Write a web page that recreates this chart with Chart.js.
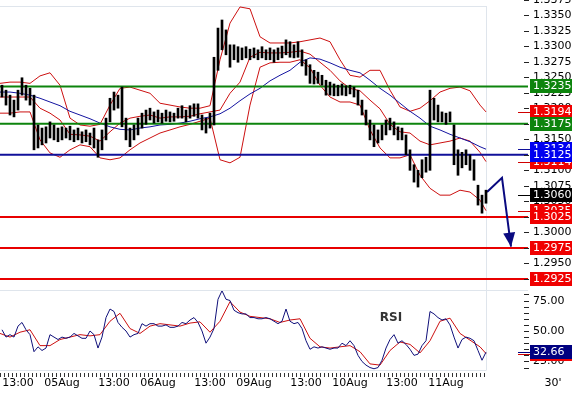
<!DOCTYPE html>
<html><head><meta charset="utf-8">
<script src="https://cdn.jsdelivr.net/npm/chart.js@4.4.1/dist/chart.umd.min.js"></script>
<style>
html,body{margin:0;padding:0;background:#fff;width:572px;height:396px;overflow:hidden}
canvas{position:absolute;left:0}
#main{top:0}
#rsi{top:290px}
</style></head><body>
<canvas id="main" width="572" height="290"></canvas>
<canvas id="rsi" width="572" height="106"></canvas>
<script>
// ---- time axis (30-minute bars) ----
const hourBars = Array.from({length:122},(_,i)=>1+2*i);
const bandBars = Array.from({length:49},(_,i)=>i*5).concat([243]);
const tickBars = [9,31,57,79,105,127,153,175,201,223];
const tickLabels = ['13:00','05Aug','13:00','06Aug','13:00','09Aug','13:00','10Aug','13:00','11Aug'];
const timeframe = "30'";

// ---- price bars (hourly high / low) ----
const highs = [1.3237,1.3229,1.3221,1.3213,1.3229,1.3249,1.3237,1.3232,1.3221,1.3173,
1.3168,1.3170,1.3178,1.3173,1.3168,1.3170,1.3168,1.3171,1.3165,1.3168,
1.3162,1.3165,1.3160,1.3168,1.3149,1.3165,1.3184,1.3216,1.3226,1.3221,
1.3234,1.3184,1.3168,1.3173,1.3184,1.3192,1.3197,1.3200,1.3194,1.3197,
1.3192,1.3197,1.3194,1.3192,1.3200,1.3204,1.3197,1.3204,1.3207,1.3207,
1.3189,1.3184,1.3192,1.3282,1.3329,1.3342,1.3326,1.3302,1.3302,1.3299,
1.3297,1.3299,1.3295,1.3297,1.3294,1.3299,1.3294,1.3297,1.3294,1.3297,
1.3300,1.3310,1.3307,1.3302,1.3307,1.3294,1.3278,1.3270,1.3261,1.3258,
1.3253,1.3245,1.3242,1.3239,1.3237,1.3239,1.3236,1.3237,1.3234,1.3229,
1.3213,1.3197,1.3181,1.3173,1.3165,1.3173,1.3181,1.3184,1.3178,1.3170,
1.3168,1.3157,1.3133,1.3109,1.3100,1.3117,1.3121,1.3229,1.3216,1.3205,
1.3194,1.3192,1.3194,1.3173,1.3133,1.3129,1.3133,1.3125,1.3117,1.3076,
1.3060,1.3068];
const lows = [1.3218,1.3205,1.3189,1.3186,1.3197,1.3221,1.3213,1.3205,1.3133,1.3136,
1.3141,1.3144,1.3152,1.3149,1.3146,1.3149,1.3152,1.3149,1.3146,1.3149,
1.3144,1.3146,1.3141,1.3136,1.3121,1.3133,1.3149,1.3178,1.3197,1.3200,
1.3170,1.3149,1.3138,1.3149,1.3157,1.3168,1.3174,1.3181,1.3176,1.3178,
1.3176,1.3179,1.3178,1.3179,1.3184,1.3184,1.3178,1.3184,1.3187,1.3184,
1.3165,1.3160,1.3168,1.3173,1.3261,1.3294,1.3286,1.3266,1.3278,1.3274,
1.3278,1.3281,1.3278,1.3281,1.3278,1.3281,1.3278,1.3278,1.3274,1.3278,
1.3281,1.3286,1.3282,1.3281,1.3282,1.3268,1.3253,1.3240,1.3239,1.3240,
1.3237,1.3221,1.3221,1.3220,1.3220,1.3221,1.3220,1.3223,1.3218,1.3205,
1.3189,1.3173,1.3149,1.3138,1.3144,1.3149,1.3157,1.3165,1.3157,1.3149,
1.3149,1.3125,1.3100,1.3081,1.3073,1.3088,1.3097,1.3100,1.3181,1.3178,
1.3178,1.3174,1.3178,1.3109,1.3092,1.3104,1.3109,1.3100,1.3084,1.3044,
1.3031,1.3047];
const lastClose = 1.3060;

// ---- Bollinger bands and moving average ----
const bbUpper = [1.3240,1.3242,1.3242,1.3240,1.3252,1.3257,1.3237,1.3184,1.3173,1.3171,
1.3174,1.3205,1.3232,1.3234,1.3229,1.3224,1.3208,1.3205,1.3202,1.3200,
1.3200,1.3204,1.3278,1.3337,1.3363,1.3360,1.3315,1.3305,1.3305,1.3305,
1.3307,1.3310,1.3313,1.3307,1.3278,1.3253,1.3250,1.3261,1.3261,1.3229,
1.3202,1.3195,1.3200,1.3212,1.3226,1.3232,1.3234,1.3228,1.3205,1.3194];
const bbMiddle = [1.3218,1.3218,1.3218,1.3218,1.3200,1.3192,1.3181,1.3158,1.3157,1.3155,
1.3147,1.3162,1.3176,1.3184,1.3187,1.3189,1.3184,1.3186,1.3186,1.3187,
1.3191,1.3194,1.3197,1.3224,1.3242,1.3282,1.3290,1.3289,1.3289,1.3290,
1.3292,1.3287,1.3274,1.3261,1.3244,1.3232,1.3228,1.3213,1.3199,1.3174,
1.3162,1.3160,1.3147,1.3141,1.3144,1.3147,1.3152,1.3147,1.3129,1.3114];
const bbLower = [1.3192,1.3192,1.3194,1.3194,1.3149,1.3128,1.3121,1.3133,1.3141,1.3138,
1.3120,1.3117,1.3120,1.3133,1.3144,1.3152,1.3160,1.3165,1.3170,1.3174,
1.3179,1.3184,1.3117,1.3112,1.3121,1.3205,1.3266,1.3273,1.3274,1.3274,
1.3278,1.3265,1.3237,1.3218,1.3210,1.3210,1.3205,1.3165,1.3136,1.3120,
1.3120,1.3125,1.3092,1.3071,1.3060,1.3060,1.3068,1.3065,1.3052,1.3035];
const maLine = [1.3226,1.3226,1.3224,1.3221,1.3216,1.3210,1.3204,1.3195,1.3189,1.3183,
1.3176,1.3170,1.3166,1.3165,1.3168,1.3170,1.3173,1.3174,1.3176,1.3179,
1.3183,1.3186,1.3191,1.3200,1.3212,1.3223,1.3232,1.3244,1.3253,1.3261,
1.3274,1.3281,1.3279,1.3273,1.3266,1.3261,1.3257,1.3245,1.3232,1.3221,
1.3208,1.3195,1.3184,1.3171,1.3165,1.3158,1.3152,1.3146,1.3138,1.3134];

// ---- horizontal levels ----
const levelValues = [1.3235,1.3175,1.3125,1.3025,1.2975,1.2925];
const levelColors = ['#0d840d','#0d840d','#10109a','#e80000','#e80000','#e80000'];
const levelBoxColors = ['#0d840d','#0d840d','#0000f0','#f00000','#f00000','#f00000'];

// ---- forecast arrow ----
const arrowBars = [243.5,251,255.5];
const arrowPrices = [1.3065,1.3088,1.2977];

// ---- price axis ticks ----
const priceTicks = [1.3375,1.3350,1.3325,1.3300,1.3275,1.3250,1.3225,1.3200,1.3175,1.3150,1.3125,1.3100,1.3075,1.3050,1.3025,1.3000,1.2975,1.2950,1.2925];

// ---- RSI ----
const rsiValues = [51,45,47,45,54,57,51,47,33,37,
34,36,47,45,43,45,44,45,48,46,
44,44,50,47,36,45,61,68,66,57,
53,50,45,47,48,56,54,56,56,54,
54,55,53,53,54,57,56,59,61,57,
50,40,45,52,76,83,76,75,67,65,
64,64,61,61,60,60,61,60,58,56,
58,68,58,56,57,52,42,35,37,36,
37,36,35,36,36,40,38,42,38,30,
25,22,20,19,20,26,36,43,47,40,
42,39,35,30,31,38,42,66,64,61,
59,60,55,45,36,43,45,44,42,34,
26,32.66];
const rsiSignal = [48,45,49,51,38,38,43,45,47,46,
47,58,64.5,52,48,54,56,55,54,56.5,
57.5,49,58,74,65.5,62,61,60,57,59,
60,44,37,36,37,38,33,23,22,34,
41,39,32,42,58,60.5,48,42.5,37,31.5];
const rsiTicks = [80,75,70,65,60,55,50,45,40,35,30,25,20];
const rsiLabelTicks = [75,50,25];

const FONT = '11px "DejaVu Sans", Verdana, sans-serif';
const AXW = 44;

function drawBox(ctx, y, text, bg, dash){
  y = Math.round(y);
  if (dash){ ctx.fillStyle = dash; ctx.fillRect(518, y, 12, 1); }
  ctx.fillStyle = bg; ctx.fillRect(530, y-7, 42, 14);
  ctx.fillStyle = '#fff'; ctx.textBaseline='middle'; ctx.textAlign='left';
  ctx.fillText(text, 533, y+0.5);
}

const mainPlugin = {
  id:'mainDeco',
  beforeDatasetsDraw(chart){
    const {ctx} = chart; const xs = chart.scales.x;
    const xe = Math.round(xs.getPixelForValue(243))+0.5;
    ctx.save(); ctx.strokeStyle='#dfe5ec'; ctx.lineWidth=1;
    ctx.beginPath(); ctx.moveTo(0,6.5); ctx.lineTo(xe,6.5); ctx.moveTo(xe,6); ctx.lineTo(xe,290); ctx.stroke();
    ctx.restore();
  },
  afterDatasetsDraw(chart){
    const {ctx} = chart;
    const meta = chart.getDatasetMeta(chart.data.datasets.length-1);
    const pts = meta.data; const a = pts[pts.length-1], b = pts[pts.length-2];
    const ang = Math.atan2(a.y-b.y, a.x-b.x);
    ctx.save(); ctx.fillStyle='#0a0a80';
    ctx.beginPath();
    ctx.moveTo(a.x, a.y);
    ctx.lineTo(a.x-14*Math.cos(ang)+6*Math.sin(ang), a.y-14*Math.sin(ang)-6*Math.cos(ang));
    ctx.lineTo(a.x-14*Math.cos(ang)-6*Math.sin(ang), a.y-14*Math.sin(ang)+6*Math.cos(ang));
    ctx.closePath(); ctx.fill(); ctx.restore();
  },
  afterDraw(chart){
    const {ctx} = chart; const ys = chart.scales.y;
    ctx.save(); ctx.font = FONT; ctx.textBaseline='middle'; ctx.textAlign='left';
    priceTicks.forEach(v=>{
      const y = Math.round(ys.getPixelForValue(v));
      ctx.fillStyle='#222'; ctx.fillRect(524, y, 5, 1);
      ctx.fillStyle='#000'; ctx.fillText(v.toFixed(4), 533, y+0.5);
    });
    const last = a => a[a.length-1];
    drawBox(ctx, ys.getPixelForValue(last(bbUpper)), last(bbUpper).toFixed(4), '#f00000', '#d00000');
    drawBox(ctx, ys.getPixelForValue(last(bbMiddle)), last(bbMiddle).toFixed(4), '#f00000', '#d00000');
    drawBox(ctx, ys.getPixelForValue(last(maLine)), last(maLine).toFixed(4), '#0000f0', '#10109a');
    drawBox(ctx, ys.getPixelForValue(last(bbLower)), last(bbLower).toFixed(4), '#f00000', '#d00000');
    levelValues.forEach((v,i)=> drawBox(ctx, ys.getPixelForValue(v), v.toFixed(4), levelBoxColors[i], null));
    drawBox(ctx, ys.getPixelForValue(lastClose), lastClose.toFixed(4), '#000', '#000');
    ctx.restore();
  }
};

const lineDs = (xs, vals, color, w, order) => ({type:'line', data: xs.map((x,i)=>({x, y: vals[i]})),
  borderColor: color, borderWidth: w, pointRadius: 0, tension: 0, fill:false, order});

const mainDatasets = [
  {type:'bar', data: hourBars.map((b,i)=>({x:b, y:[lows[i], highs[i]]})), backgroundColor:'#000',
   barThickness:2, grouped:false, order:0},
  ...levelValues.map((v,i)=>lineDs([0,264],[v,v],levelColors[i],2,1)),
  lineDs(bandBars, bbUpper, '#cc1010', 1, 3),
  lineDs(bandBars, bbMiddle, '#cc1010', 1, 3),
  lineDs(bandBars, bbLower, '#cc1010', 1, 3),
  lineDs(bandBars, maLine, '#1414a0', 1, 2),
  lineDs(arrowBars, arrowPrices, '#0a0a80', 2, 0)
];

new Chart(document.getElementById('main'), {
  data: {datasets: mainDatasets},
  options: {
    responsive:false, animation:false, events:[],
    layout:{padding:{left:0, right:AXW, top:0, bottom:0}},
    plugins:{legend:{display:false}, tooltip:{enabled:false}},
    scales:{
      x:{type:'linear', min:0, max:264, display:false, offset:false},
      y:{type:'linear', min:1.29073, max:1.33742, display:false}
    }
  },
  plugins:[mainPlugin]
});

const rsiPlugin = {
  id:'rsiDeco',
  beforeDatasetsDraw(chart){
    const {ctx} = chart; const xs = chart.scales.x;
    const xe = Math.round(xs.getPixelForValue(243))+0.5;
    ctx.save(); ctx.strokeStyle='#dfe5ec'; ctx.lineWidth=1;
    ctx.beginPath();
    ctx.moveTo(0,0.5); ctx.lineTo(528,0.5);
    ctx.moveTo(0,80.5); ctx.lineTo(xe,80.5);
    ctx.moveTo(xe,0); ctx.lineTo(xe,80);
    ctx.stroke(); ctx.restore();
  },
  afterDraw(chart){
    const {ctx} = chart; const ys = chart.scales.y; const xs = chart.scales.x;
    ctx.save(); ctx.font = FONT; ctx.textBaseline='middle';
    rsiTicks.forEach(v=>{ const y = Math.round(ys.getPixelForValue(v)); ctx.fillStyle='#222'; ctx.fillRect(524,y,5,1); });
    ctx.textAlign='left'; ctx.fillStyle='#000';
    rsiLabelTicks.forEach(v=> ctx.fillText(v.toFixed(2), 533, Math.round(ys.getPixelForValue(v))+0.5));
    const ls = rsiSignal[rsiSignal.length-1], lr = rsiValues[rsiValues.length-1];
    drawBox(ctx, ys.getPixelForValue(ls), ls.toFixed(2), '#f00000', '#d00000');
    drawBox(ctx, ys.getPixelForValue(lr), lr.toFixed(2), '#000080', '#000080');
    ctx.fillStyle='#333';
    for (let b=0; b<=242; b+=2){ const x = Math.round(xs.getPixelForValue(b)); ctx.fillRect(x, 83, 1, 4); }
    ctx.fillStyle='#000'; ctx.textAlign='center';
    tickBars.forEach((b,i)=> ctx.fillText(tickLabels[i], xs.getPixelForValue(b), 93.5));
    ctx.fillText(timeframe, 553, 93.5);
    ctx.font = 'bold 12px "DejaVu Sans", Verdana, sans-serif'; ctx.fillStyle='#333';
    ctx.fillText('RSI', 391, 28);
    ctx.restore();
  }
};

new Chart(document.getElementById('rsi'), {
  data: {datasets: [
    lineDs(bandBars, rsiSignal, '#cc1010', 1, 1),
    lineDs(hourBars, rsiValues, '#10107a', 1, 0)
  ]},
  options: {
    responsive:false, animation:false, events:[],
    layout:{padding:{left:0, right:AXW, top:1, bottom:26}},
    plugins:{legend:{display:false}, tooltip:{enabled:false}},
    scales:{
      x:{type:'linear', min:0, max:264, display:false},
      y:{type:'linear', min:18, max:82.8, display:false}
    }
  },
  plugins:[rsiPlugin]
});
</script>
</body></html>
